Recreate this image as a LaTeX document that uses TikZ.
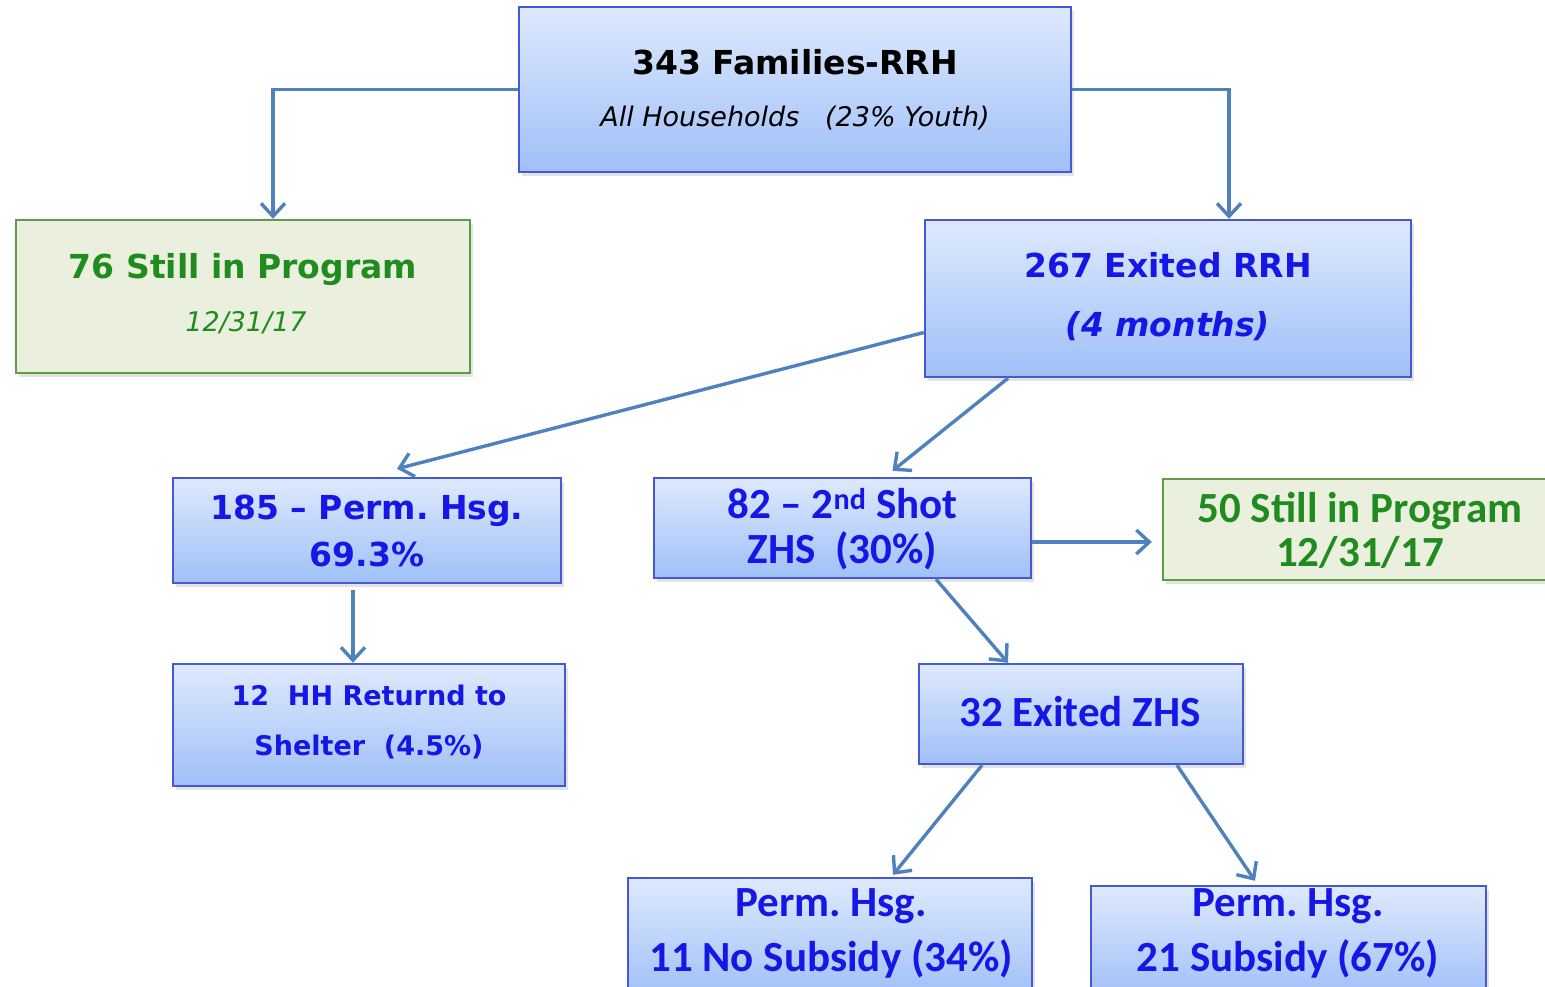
\documentclass[tikz,border=0pt]{standalone}
\usepackage{fontspec}
\setmainfont{DejaVu Sans}
\newfontfamily\calfont[Ligatures=TeX]{Carlito}
\usetikzlibrary{arrows.meta,shadows}
\frenchspacing
\definecolor{bxtop}{RGB}{222,233,253}
\definecolor{bxbot}{RGB}{160,192,248}
\definecolor{bxdraw}{RGB}{70,88,212}
\definecolor{gnfill}{RGB}{235,240,222}
\definecolor{gndraw}{RGB}{95,155,75}
\definecolor{txblue}{RGB}{22,22,230}
\definecolor{txgreen}{RGB}{32,140,32}
\definecolor{arr}{RGB}{79,129,189}
\tikzset{
  bluebox/.style={draw=bxdraw, line width=2.4pt, top color=bxtop, bottom color=bxbot,
    drop shadow={shadow xshift=3pt,shadow yshift=-4pt,opacity=0.22}, inner sep=0pt},
  greenbox/.style={draw=gndraw, line width=2.4pt, fill=gnfill,
    drop shadow={shadow xshift=3pt,shadow yshift=-4pt,opacity=0.22}, inner sep=0pt},
  tlabel/.style={align=center, inner sep=0pt},
  conn/.style={draw=arr, line width=3.4pt, -{Straight Barb[length=13pt,width=24pt,line width=3.4pt]}},
}
\newcommand{\bigbold}{\fontsize{33}{56}\selectfont\bfseries}
\newcommand{\smallital}{\fontsize{27}{40}\selectfont\itshape}
\begin{document}
\begin{tikzpicture}[x=1pt,y=-1pt]
\useasboundingbox (0,0) rectangle (1545,987);
% boxes
\node[bluebox, minimum width=552pt, minimum height=165pt] (top) at (795,89.5) {};
\node[greenbox, minimum width=454pt, minimum height=153pt] (gl) at (243,296.5) {};
\node[bluebox, minimum width=486pt, minimum height=157pt] (ex) at (1168,298.5) {};
\node[bluebox, minimum width=388pt, minimum height=105pt] (p185) at (367,530.5) {};
\node[bluebox, minimum width=392pt, minimum height=122pt] (r12) at (369,725) {};
\node[bluebox, minimum width=377pt, minimum height=100pt] (z82) at (842.5,528) {};
\node[greenbox, minimum width=400pt, minimum height=101pt] (s50) at (1363,529.5) {};
\node[bluebox, minimum width=324pt, minimum height=100pt] (e32) at (1081,714) {};
\node[bluebox, minimum width=404pt, minimum height=120pt] (p11) at (830,938) {};
\node[bluebox, minimum width=395pt, minimum height=112pt] (p21) at (1288.5,942) {};
% texts
\node[tlabel, font=\bigbold] (toptxta) at (795,62) {343 Families-RRH};
\node[tlabel, font=\smallital] (toptxtb) at (795,118) {All Households\ \ \ (23\% Youth)};
\node[tlabel, text=txgreen, font=\bigbold] (gltxta) at (243,270) {76 Still in Program};
\node[tlabel, text=txgreen, font=\smallital] (gltxtb) at (246,323) {12/31/17};
\node[tlabel, text=txblue, font=\bigbold] (extxt) at (1168,297) {267 Exited RRH\\[3pt]\itshape (4 months)};
\node[tlabel, text=txblue, font=\fontsize{33}{47}\selectfont\bfseries] (p185txt) at (367,531) {185 \textendash\ Perm. Hsg.\\69.3\%};
\node[tlabel, text=txblue, font=\fontsize{27}{50}\selectfont\bfseries] (r12txt) at (369,722) {12\ \ HH Returnd to\\Shelter\ \ (4.5\%)};
\node[tlabel, text=txblue, font=\calfont\fontsize{43}{45}\selectfont\bfseries] (z82txt) at (842.5,529) {82 \textendash\ 2\textsuperscript{nd} Shot\\ZHS\ \ (30\%)};
\node[tlabel, text=txgreen, font=\calfont\fontsize{43}{44}\selectfont\bfseries] (s50txt) at (1360,530) {50 Still in Program\\12/31/17};
\node[tlabel, text=txblue, font=\calfont\fontsize{43}{45}\selectfont\bfseries] (e32txt) at (1080,712) {32 Exited ZHS};
\node[tlabel, text=txblue, font=\calfont\fontsize{43}{55}\selectfont\bfseries] (p11txt) at (831,933) {Perm. Hsg.\\11 No Subsidy (34\%)};
\node[tlabel, text=txblue, font=\calfont\fontsize{43}{55}\selectfont\bfseries] (p21txt) at (1288,933) {Perm. Hsg.\\21 Subsidy (67\%)};
% connectors
\draw[conn] (top.west) -| ([xshift=30pt]gl.north);
\draw[conn] (top.east) -| ([xshift=61pt]ex.north);
\draw[conn] ([yshift=-34pt]ex.west) -- ([xshift=30pt,yshift=8pt]p185.north);
\draw[conn] ([xshift=-160pt]ex.south) -- ([xshift=50pt,yshift=6pt]z82.north);
\draw[conn] ([xshift=-14pt,yshift=-6pt]p185.south) -- ([xshift=-16pt]r12.north);
\draw[conn] ([yshift=-14pt]z82.east) -- ([yshift=-12.5pt,xshift=-10pt]s50.west);
\draw[conn] ([xshift=93.5pt]z82.south) -- ([xshift=-73pt]e32.north);
\draw[conn] ([xshift=-99pt]e32.south) -- ([xshift=63pt,yshift=2pt]p11.north);
\draw[conn] ([xshift=96pt]e32.south) -- ([xshift=-33.5pt,yshift=4pt]p21.north);
\end{tikzpicture}
\end{document}
